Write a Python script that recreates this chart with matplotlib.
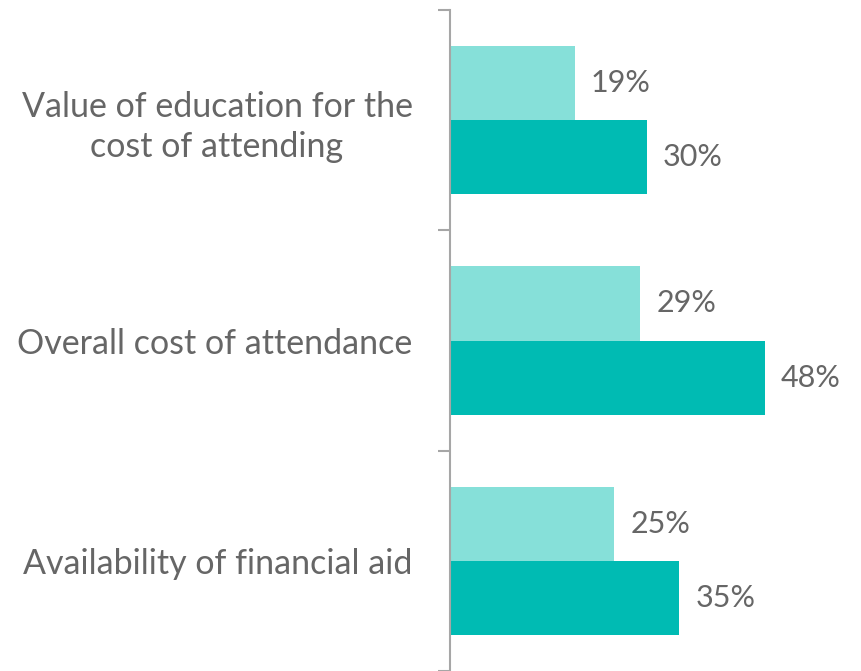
import matplotlib
matplotlib.use("Agg")
import matplotlib.pyplot as plt
import numpy as np

categories = ["Value of education for the\ncost of attending",
              "Overall cost of attendance",
              "Availability of financial aid"]
series_light = [19, 29, 25]
series_dark = [30, 48, 35]
value_labels_light = ["19%", "29%", "25%"]
value_labels_dark = ["30%", "48%", "35%"]

LIGHT = "#86E0D9"
DARK = "#00BBB3"
TEXT = "#666666"
AXIS = "#A6A6A6"
FONT = "Lato"

W, H = 861, 671
fig = plt.figure(figsize=(W / 100, H / 100), dpi=100)
ax = fig.add_axes([450 / W, 0, (W - 450) / W, (H - 10) / H])

y = np.arange(len(categories))
bh = 0.336
ax.barh(y - bh / 2, series_light, height=bh, color=LIGHT)
ax.barh(y + bh / 2, series_dark, height=bh, color=DARK)

ax.set_ylim(len(categories) - 0.5, -0.5)
ax.set_xlim(0, 62.7)

for i in range(len(categories)):
    ax.text(series_light[i] + 2.5, y[i] - bh / 2, value_labels_light[i],
            va="center", ha="left", fontsize=22, color=TEXT, family=FONT)
    ax.text(series_dark[i] + 2.5, y[i] + bh / 2, value_labels_dark[i],
            va="center", ha="left", fontsize=22, color=TEXT, family=FONT)

for s in ["top", "right", "bottom"]:
    ax.spines[s].set_visible(False)
ax.spines["left"].set_color(AXIS)
ax.spines["left"].set_linewidth(1.5)
ax.set_xticks([])
ax.set_yticks(y)
ax.set_yticklabels(categories, fontsize=24.5, color=TEXT, family=FONT,
                   multialignment="center", linespacing=1.3)
ax.tick_params(axis="y", which="major", length=0, pad=27)
ax.set_yticks(np.arange(-0.5, len(categories), 1.0), minor=True)
ax.tick_params(axis="y", which="minor", length=9, width=1.5, color=AXIS,
               direction="out")

fig.savefig("out.png", dpi=100)
